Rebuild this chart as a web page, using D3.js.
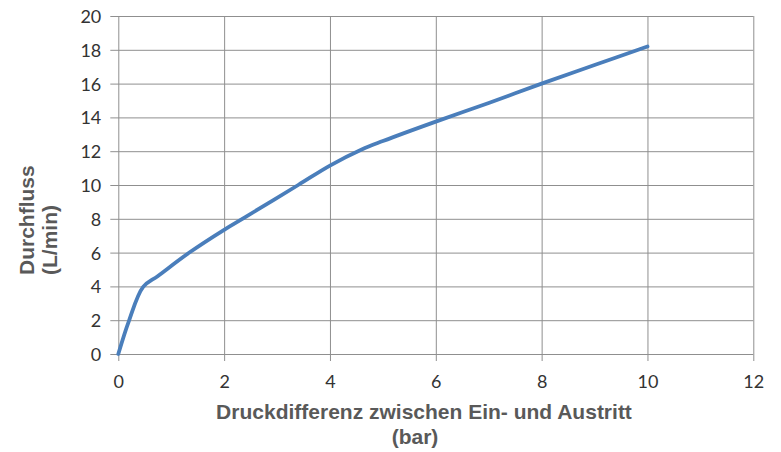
<!DOCTYPE html>
<html>
<head>
<meta charset="utf-8">
<script src="https://cdn.jsdelivr.net/npm/d3@7/dist/d3.min.js"></script>
<style>
  html, body { margin: 0; padding: 0; background: #fff; }
  svg { display: block; }
</style>
</head>
<body>
<svg id="chart" width="781" height="452"></svg>
<script>
// Data
const pressure = [0, 0.2, 0.47, 0.75, 1.35, 2, 2.4, 3.4, 4, 4.6, 5, 6, 7, 8, 9, 10];
const flow     = [0, 1.95, 3.97, 4.62, 6.02, 7.35, 8.1, 10.0, 11.15, 12.1, 12.6, 13.75, 14.85, 16.0, 17.1, 18.2];
const xTicks = [0, 2, 4, 6, 8, 10, 12];
const yTicks = [0, 2, 4, 6, 8, 10, 12, 14, 16, 18, 20];
const xTitleLines = ["Druckdifferenz zwischen Ein- und Austritt", "(bar)"];
const yTitleLines = ["Durchfluss", "(L/min)"];

(function () {
const svg = d3.select("#chart");
const mLeft = 118.3, mRight = 753.3, mTop = 16, mBottom = 354;
const x = d3.scaleLinear().domain([0, 12]).range([mLeft, mRight]);
const y = d3.scaleLinear().domain([0, 20]).range([mBottom, mTop]);

const gridColor = "#8f8f8f";
const tickFont = "Lato, 'Open Sans', sans-serif";
const titleFont = "'Liberation Sans', Arial, sans-serif";

// Horizontal gridlines (with tick extensions to the left)
const yAxis = d3.axisLeft(y).tickValues(yTicks).tickSize(8).tickFormat(d3.format("d")).tickPadding(9);
const gy = svg.append("g").attr("transform", `translate(${mLeft},0)`).call(yAxis);
gy.select(".domain").remove();
gy.selectAll(".tick line").attr("stroke", gridColor).attr("x2", -8).attr("x1", mRight - mLeft);
gy.selectAll(".tick text").attr("font-family", tickFont).attr("font-size", 18).attr("fill", "#333").attr("dy", "0.36em");

// Vertical gridlines (with tick extensions below)
const xAxis = d3.axisBottom(x).tickValues(xTicks).tickSize(7).tickFormat(d3.format("d")).tickPadding(14);
const gx = svg.append("g").attr("transform", `translate(0,${mBottom})`).call(xAxis);
gx.select(".domain").remove();
gx.selectAll(".tick line").attr("stroke", gridColor).attr("y1", -(mBottom - mTop)).attr("y2", 7);
gx.selectAll(".tick text").attr("font-family", tickFont).attr("font-size", 18).attr("fill", "#333");

// Data line
const pts = pressure.map((p, i) => [p, flow[i]]);
const line = d3.line().x(d => x(d[0])).y(d => y(d[1])).curve(d3.curveCatmullRom.alpha(0.5));
svg.append("path").datum(pts)
  .attr("d", line)
  .attr("fill", "none")
  .attr("stroke", "#4a7ebb")
  .attr("stroke-width", 3.8)
  .attr("stroke-linecap", "round")
  .attr("stroke-linejoin", "round");

// X axis title
const xtPos = [[424, 419], [415, 444]];
xTitleLines.forEach((t, i) => {
  svg.append("text").attr("x", xtPos[i][0]).attr("y", xtPos[i][1])
    .attr("text-anchor", "middle")
    .attr("font-family", titleFont).attr("font-weight", "bold").attr("font-size", 21)
    .attr("fill", "#595959").text(t);
});

// Y axis title (rotated, start-aligned)
const ytPos = [34, 57];
yTitleLines.forEach((t, i) => {
  svg.append("text")
    .attr("transform", `translate(${ytPos[i]},275) rotate(-90)`)
    .attr("text-anchor", "start")
    .attr("font-family", titleFont).attr("font-weight", "bold").attr("font-size", 21)
    .attr("fill", "#595959").text(t);
});
})();
</script>
</body>
</html>
